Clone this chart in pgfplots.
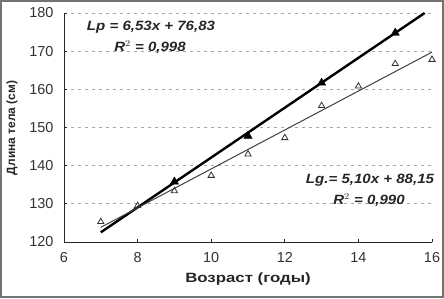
\documentclass[border=0pt]{standalone}
\usepackage{pgfplots}
\pgfplotsset{compat=1.18}
\usepackage{fontspec}
\setmainfont{Liberation Sans}
\begin{document}
\begin{tikzpicture}[x=1bp,y=1bp]
\useasboundingbox (0,0) rectangle (444,298);
\draw[line width=2bp, black!55] (1,1) rectangle (443,297);
\begin{axis}[
  at={(64bp,56bp)}, anchor=origin,
  scale only axis, width=368bp, height=229bp,
  xmin=6, xmax=16, ymin=120, ymax=180,
  xtick={6,8,...,16}, ytick={120,130,...,180},
  axis x line*=bottom, axis y line*=left,
  axis line style={line width=1bp, black!85, -},
  tick align=inside, major tick length=3bp,
  tick style={black!85, line width=0.8bp},
  ymajorgrids, grid style={black!35, line width=0.8bp, dash pattern=on 3bp off 4bp},
  tick label style={font=\fontsize{14.5}{16}\selectfont, text=black!80},
  /pgf/number format/assume math mode=true,
  xticklabel style={yshift=-7bp},
  yticklabel style={xshift=-7bp},
  clip=false,
]
% Lp regression line
\addplot[line width=2.4bp, black, no marks] coordinates {(7,122.54) (15.8,180.0)};
% Lg regression line
\addplot[line width=1bp, black!75, no marks] coordinates {(7,123.85) (16,169.75)};
% Lp data (filled triangles)
\addplot[only marks, mark=triangle*, mark size=4.8bp, black] coordinates {
(9,135.8) (11,147.8) (13,161.7) (15,174.8)};
% Lg data (open triangles)
\addplot[only marks, mark=triangle, mark size=3.6bp, black!80, line width=0.8bp] coordinates {
(7,125.3) (8,129.5) (9,133.4) (10,137.4) (11,143.0) (12,147.3) (13,155.7) (14,160.8) (15,166.7) (16,167.8)};
\end{axis}
\tikzset{eq/.style={font=\fontsize{13.5}{15}\selectfont\bfseries\itshape, text=black!85, xscale=1.12}}
\node[eq] at (151,271) {Lp = 6,53x + 76,83};
\node[eq] at (150,251) {R$^{2}$ = 0,998};
\node[eq] at (370,118) {Lg.= 5,10x + 88,15};
\node[eq] at (369,98) {R$^{2}$ = 0,990};
\node[font=\fontsize{12}{13}\selectfont\bfseries, text=black!85, rotate=90] at (12,170) {Длина тела (см)};
\node[font=\fontsize{13.5}{15}\selectfont\bfseries, text=black!85, xscale=1.25] at (248,19) {Возраст (годы)};
\end{tikzpicture}
\end{document}
